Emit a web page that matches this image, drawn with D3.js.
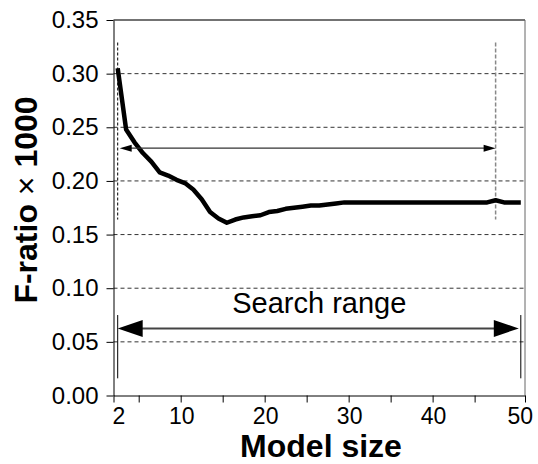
<!DOCTYPE html>
<html>
<head>
<meta charset="utf-8">
<script src="https://cdn.jsdelivr.net/npm/d3@7"></script>
<style>
  body { margin: 0; background: #fff; }
  svg { display: block; font-family: "Liberation Sans", Arial, sans-serif; }
</style>
</head>
<body>
<svg id="chart" width="538" height="464"></svg>
<script>
// Model sizes (categories) and the F-ratio (x1000) measured for each
const modelSizes = [2, 3, 4, 5, 6, 7, 8, 9, 10, 11, 12, 13, 14, 15, 16, 17, 18, 19, 20, 21,
  22, 23, 24, 25, 26, 27, 28, 29, 30, 31, 32, 33, 34, 35, 36, 37, 38, 39, 40, 41,
  42, 43, 44, 45, 46, 47, 48, 49, 50];
const fRatio = [0.305, 0.248, 0.236, 0.226, 0.218, 0.208, 0.205, 0.201, 0.198, 0.192,
  0.183, 0.171, 0.165, 0.161, 0.164, 0.166, 0.167, 0.168, 0.171, 0.172,
  0.174, 0.175, 0.176, 0.177, 0.177, 0.178, 0.179, 0.180, 0.180, 0.180,
  0.180, 0.180, 0.180, 0.180, 0.180, 0.180, 0.180, 0.180, 0.180, 0.180,
  0.180, 0.180, 0.180, 0.180, 0.180, 0.182, 0.180, 0.180, 0.180];
const yTickValues = [0, 0.05, 0.10, 0.15, 0.20, 0.25, 0.30, 0.35];
const gridValues = [0.05, 0.10, 0.15, 0.20, 0.25, 0.30];
const xTickLabels = [2, 10, 20, 30, 40, 50];
const searchRange = [2, 50];
const detailRange = [2, 47];
const detailArrowLevel = 0.2305;
const detailSpan = [0.164, 0.329];
const searchArrowLevel = 0.0625;
const searchSpan = [0.016, 0.075];
const searchLabel = "Search range";

const svg = d3.select("#chart");
const plotLeft = 113.5, plotRight = 525, plotTop = 20, plotBottom = 395.5;

// Category axis: each model size occupies one unit slot
const x = d3.scaleLinear()
  .domain([modelSizes[0] - 0.5, modelSizes[modelSizes.length - 1] + 0.5])
  .range([plotLeft, plotRight]);
const y = d3.scaleLinear().domain([0, 0.35]).range([plotBottom, plotTop]);

// Horizontal dashed gridlines
svg.append("g").selectAll("line").data(gridValues).join("line")
  .attr("x1", plotLeft).attr("x2", plotRight)
  .attr("y1", d => y(d)).attr("y2", d => y(d))
  .attr("stroke", "#333").attr("stroke-width", 1)
  .attr("stroke-dasharray", "4,3");

// Plot frame (top and right)
svg.append("line").attr("x1", plotLeft).attr("x2", plotRight).attr("y1", plotTop).attr("y2", plotTop)
  .attr("stroke", "#444").attr("stroke-width", 1.5);
svg.append("line").attr("x1", plotRight).attr("x2", plotRight).attr("y1", plotTop).attr("y2", plotBottom)
  .attr("stroke", "#666").attr("stroke-width", 1);

// Y axis
const yAxis = svg.append("g").attr("transform", `translate(${plotLeft},0)`)
  .call(d3.axisLeft(y).tickValues(yTickValues).tickFormat(d3.format(".2f"))
    .tickSize(7).tickPadding(8).tickSizeOuter(0));
yAxis.select(".domain").attr("stroke", "#000");
yAxis.selectAll(".tick line").attr("stroke", "#000");
yAxis.selectAll("text").attr("font-size", 24).attr("fill", "#000")
  .attr("font-family", '"Liberation Sans", Arial, sans-serif');

// X axis: tick marks on category boundaries every five sizes
const boundaryTicks = [x.domain()[0]].concat(d3.range(4.5, 45, 5), [x.domain()[1]]);
const xAxis = svg.append("g").attr("transform", `translate(0,${plotBottom})`)
  .call(d3.axisBottom(x).tickValues(boundaryTicks).tickFormat("").tickSize(7).tickSizeOuter(0));
xAxis.select(".domain").attr("stroke", "#000");
xAxis.selectAll(".tick line").attr("stroke", "#000");

const lastLabel = xTickLabels.length - 1;
svg.append("g").selectAll("text").data(xTickLabels).join("text")
  .attr("x", (d, i) => {
    if (i === 0) return x(x.domain()[0]) - 1;
    if (i === lastLabel) return x(x.domain()[1]) + 8;
    return x(d - 0.5) + 1;
  })
  .attr("y", 423.5)
  .attr("text-anchor", (d, i) => i === 0 ? "start" : (i === lastLabel ? "end" : "middle"))
  .attr("font-size", 23).attr("fill", "#000")
  .text(d => d);

// Axis titles
svg.append("text")
  .attr("x", 321).attr("y", 457)
  .attr("text-anchor", "middle").attr("font-size", 32).attr("font-weight", "bold")
  .text("Model size");

const yTitle = svg.append("text")
  .attr("transform", "translate(37,200) rotate(-90)")
  .attr("text-anchor", "middle").attr("font-size", 32).attr("font-weight", "bold");
yTitle.append("tspan").text("F-ratio ");
yTitle.append("tspan").attr("font-weight", "normal").text("\u00D7");
yTitle.append("tspan").text(" 1000");

// Vertical dashed guides bounding the detailed range
svg.append("line")
  .attr("x1", x(detailRange[0])).attr("x2", x(detailRange[0]))
  .attr("y1", y(detailSpan[1])).attr("y2", y(detailSpan[0]))
  .attr("stroke", "#000").attr("stroke-width", 1).attr("stroke-dasharray", "3,2");
svg.append("line")
  .attr("x1", x(detailRange[1])).attr("x2", x(detailRange[1]))
  .attr("y1", y(detailSpan[1])).attr("y2", y(detailSpan[0]))
  .attr("stroke", "#888").attr("stroke-width", 1.5).attr("stroke-dasharray", "4,2");

// F-ratio curve
const series = modelSizes.map((s, i) => ({ size: s, f: fRatio[i] }));
svg.append("path").datum(series)
  .attr("fill", "none").attr("stroke", "#000").attr("stroke-width", 4.5)
  .attr("stroke-linejoin", "round")
  .attr("d", d3.line().x(d => x(d.size)).y(d => y(d.f)));

// Double-headed arrow helper
function doubleArrow(x1, x2, yy, headLen, headHalf, width, color) {
  const g = svg.append("g");
  g.append("line").attr("x1", x1 + headLen - 1).attr("x2", x2 - headLen + 1)
    .attr("y1", yy).attr("y2", yy).attr("stroke", color).attr("stroke-width", width);
  g.append("path").attr("fill", "#000")
    .attr("d", `M${x1},${yy}L${x1 + headLen},${yy - headHalf}L${x1 + headLen},${yy + headHalf}Z`);
  g.append("path").attr("fill", "#000")
    .attr("d", `M${x2},${yy}L${x2 - headLen},${yy - headHalf}L${x2 - headLen},${yy + headHalf}Z`);
}

doubleArrow(x(detailRange[0]) + 2, x(detailRange[1]), y(detailArrowLevel), 12, 3.5, 1.3, "#333");

// Search range markers
svg.append("g").selectAll("line").data(searchRange).join("line")
  .attr("x1", d => x(d)).attr("x2", d => x(d))
  .attr("y1", y(searchSpan[1])).attr("y2", y(searchSpan[0]))
  .attr("stroke", "#000").attr("stroke-width", 1);
doubleArrow(x(searchRange[0]), x(searchRange[1]) - 2, y(searchArrowLevel), 25, 8.5, 2, "#444");

svg.append("text")
  .attr("x", x((searchRange[0] + searchRange[1]) / 2)).attr("y", 312.5)
  .attr("text-anchor", "middle").attr("font-size", 29).attr("fill", "#000")
  .text(searchLabel);
</script>
</body>
</html>
